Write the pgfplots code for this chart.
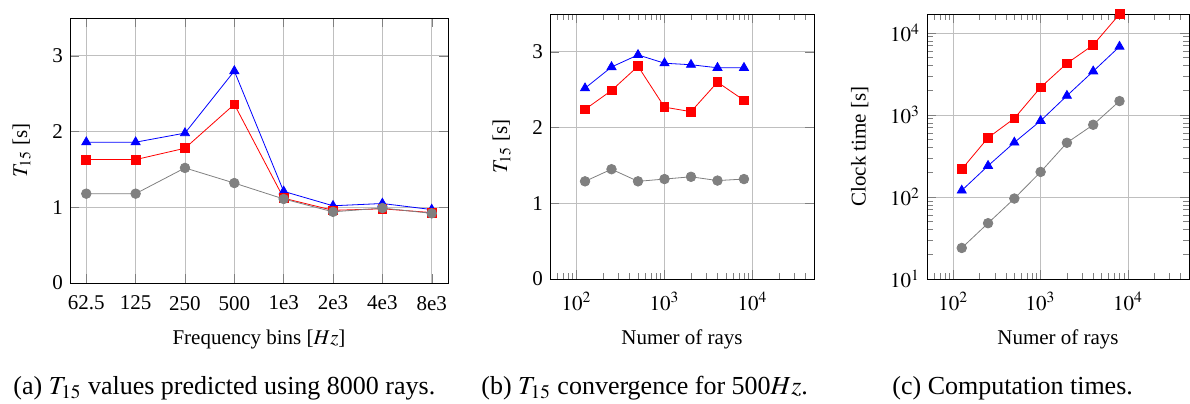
\documentclass[border=0pt]{standalone}
\usepackage{mathptmx}
\usepackage{fontspec}
\setmainfont{Liberation Serif}
\usepackage{pgfplots}
\pgfplotsset{compat=1.18}
\definecolor{pgray}{RGB}{128,128,128}
\pgfplotsset{
  every axis/.append style={scale only axis, grid=major,
    tick label style={font=\fontsize{10.5}{12}\selectfont},
    label style={font=\fontsize{10.5}{12}\selectfont},
    xticklabel shift=3pt, xlabel shift=3pt, ylabel shift=4pt},
  sblue/.style={blue, mark=triangle*, mark size=2.6pt, mark options={fill=blue, draw=blue}},
  sred/.style={red, mark=square*, mark size=2.2pt, mark options={fill=red, draw=red}},
  sgray/.style={pgray, mark=*, mark size=2.4pt, mark options={fill=pgray, draw=pgray}},
}
\begin{document}
\begin{tikzpicture}
\useasboundingbox (0,0) rectangle (595pt,-201.5pt);
% (a)
\begin{axis}[at={(35pt,-141.5pt)}, anchor=south west, width=189pt, height=132.5pt,
  xmin=-0.33, xmax=7.33, ymin=0, ymax=3.5, ytick={0,1,2,3},
  xtick={0,...,7}, xticklabels={62.5,125,250,500,1e3,2e3,4e3,8e3},
  /pgf/number format/assume math mode=true,
  xlabel={Frequency bins [$Hz$]}, ylabel={$T_{15}$ [s]}]
\addplot[sblue] coordinates {(0,1.86)(1,1.86)(2,1.98)(3,2.80)(4,1.21)(5,1.02)(6,1.05)(7,0.97)};
\addplot[sred] coordinates {(0,1.63)(1,1.63)(2,1.78)(3,2.36)(4,1.12)(5,0.96)(6,0.98)(7,0.93)};
\addplot[sgray] coordinates {(0,1.18)(1,1.18)(2,1.52)(3,1.32)(4,1.11)(5,0.94)(6,0.99)(7,0.92)};
\end{axis}
% (b)
\begin{axis}[at={(275pt,-139.5pt)}, anchor=south west, width=132pt, height=132.5pt,
  xmode=log, xmin=50, xmax=50000, ymin=0, ymax=3.5, ytick={0,1,2,3},
  /pgf/number format/assume math mode=true,
  xlabel={Numer of rays}, ylabel={$T_{15}$ [s]}]
\addplot[sblue] coordinates {(125,2.52)(250,2.80)(500,2.96)(1000,2.85)(2000,2.83)(4000,2.79)(8000,2.79)};
\addplot[sred] coordinates {(125,2.24)(250,2.49)(500,2.81)(1000,2.27)(2000,2.21)(4000,2.60)(8000,2.36)};
\addplot[sgray] coordinates {(125,1.29)(250,1.45)(500,1.29)(1000,1.32)(2000,1.35)(4000,1.30)(8000,1.32)};
\end{axis}
% (c)
\begin{axis}[at={(463.5pt,-139.5pt)}, anchor=south west, width=131pt, height=132.5pt,
  xmode=log, ymode=log, xmin=50, xmax=50000, ymin=10, ymax=17000,
  xlabel={Numer of rays}, ylabel={Clock time [s]}]
\addplot[sblue] coordinates {(125,120)(250,240)(500,462)(1000,849)(2000,1715)(4000,3405)(8000,6810)};
\addplot[sred] coordinates {(125,218)(250,527)(500,908)(1000,2170)(2000,4250)(4000,7130)(8000,16900)};
\addplot[sgray] coordinates {(125,23.9)(250,47.9)(500,95.7)(1000,202)(2000,458)(4000,759)(8000,1476)};
\end{axis}
\node[font=\fontsize{13}{15}\selectfont, anchor=base west, inner sep=0pt] at (6.5pt,-197pt) {(a) $T_{15}$ values predicted using 8000 rays.};
\node[font=\fontsize{13}{15}\selectfont, anchor=base west, inner sep=0pt] at (240.5pt,-197pt) {(b) $T_{15}$ convergence for 500$Hz$.};
\node[font=\fontsize{13}{15}\selectfont, anchor=base west, inner sep=0pt] at (446pt,-197pt) {(c) Computation times.};
\end{tikzpicture}
\end{document}
